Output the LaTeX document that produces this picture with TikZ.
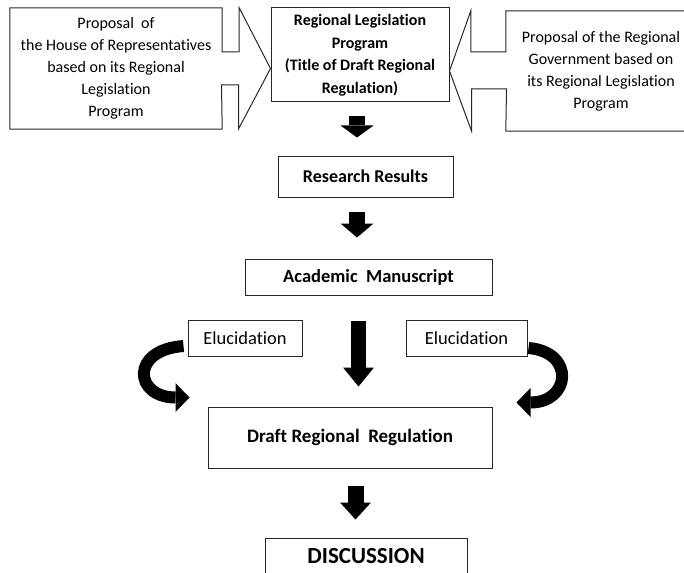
\documentclass[tikz,border=0pt]{standalone}
\usepackage{fontspec}
\setmainfont{Carlito}[Ligatures=NoCommon]
\usetikzlibrary{arrows.meta,calc}

\begin{document}
\begin{tikzpicture}[x=1pt, y=-1pt,
	box/.style={draw=black!85, line width=1pt},
	txt/.style={align=center, inner sep=0pt, font=\fontsize{16}{22}\selectfont},
	block/.style={black, line width=16pt, -{Triangle[width=33pt, length=13pt, line width=0pt]}},
	bendarrow/.style={black, line width=12pt, -{Triangle[width=29pt, length=14pt, line width=0pt]}}]
	\useasboundingbox (0,0) rectangle (684,572);
	\coordinate (spine) at (357,0);

	% top row
	\node[txt, minimum width=212pt, minimum height=121pt] (house) at (116,68.5)
	  {Proposal \ of\\the House of Representatives\\based on its Regional\\Legislation\\Program};
	\node[box, txt, font=\bfseries\fontsize{16}{22.5}\selectfont, minimum width=178pt, minimum height=94pt] (prog) at (360,55)
	  {Regional Legislation\\Program\\(Title of Draft Regional\\Regulation)};
	\node[txt, minimum width=190pt, minimum height=120pt] (gov) at (601,71)
	  {Proposal of the Regional\\Government based on\\its Regional Legislation\\Program};

	% callouts
	\draw[box] (house.north west) -- (house.north east) -- ++(0,44) -- ++(17,0) -- ++(0,-44)
	  -- (prog.west |- house.east) -- ++(-32,60.5) -- ++(0,-44) -- ++(-17,0) -- (house.south east) -- (house.south west) -- cycle;
	\draw[box] (gov.north east) -- (gov.north west) -- ++(0,41) -- ++(-35,0) -- ++(0,-41)
	  -- (prog.east |- gov.west) -- ++(22,60) -- ++(0,-42) -- ++(35,0) -- (gov.south west) -- (gov.south east) -- cycle;

	% chain
	\node[box, font=\bfseries\fontsize{18}{20}\selectfont, minimum width=175pt, minimum height=41pt] (research) at (365.5,176.5) {Research Results};
	\node[box, font=\bfseries\fontsize{18.5}{20}\selectfont, minimum width=247pt, minimum height=36pt] (academic) at (368.5,277) {Academic \ Manuscript};
	\node[box, font=\fontsize{18.5}{20}\selectfont, minimum width=114pt, minimum height=36pt] (elucL) at (245,338) {Elucidation};
	\node[box, font=\fontsize{18.5}{20}\selectfont, minimum width=121pt, minimum height=36pt] (elucR) at (466.5,338) {Elucidation};
	\node[box, font=\bfseries\fontsize{19}{20}\selectfont, minimum width=284pt, minimum height=61pt] (draft) at (350,437.5) {Draft Regional \ Regulation};
	\node[box, font=\bfseries\fontsize{23}{24}\selectfont, minimum width=202pt, minimum height=36pt] (discussion) at (366,556) {DISCUSSION};

	% block arrows
	\draw[block, -{Triangle[width=33pt, length=12pt, line width=0pt]}, shorten <=14pt, shorten >=18pt]
	  (spine |- prog.south) -- (spine |- research.north);
	\draw[block, -{Triangle[width=33pt, length=14pt, line width=0pt]}, shorten <=14pt, shorten >=21pt]
	  (spine |- research.south) -- (spine |- academic.north);
	\draw[block, line width=15pt, -{Triangle[width=31pt, length=19pt, line width=0pt]}, shorten <=25pt, shorten >=20pt]
	  ($(spine |- academic.south)+(1.5,0)$) -- ($(spine |- draft.north)+(1.5,0)$);
	\draw[block, -{Triangle[width=31pt, length=17pt, line width=0pt]}, shorten <=17pt, shorten >=18pt]
	  ($(spine |- draft.south)+(-1.5,0)$) -- ($(spine |- discussion.north)+(-1.5,0)$);

	% curved arrows
	\draw[bendarrow] ($(elucL.west)+(-4,8)$) .. controls +(-54,4) and +(-55,0) .. ($(draft.north west)+(-18,-9)$);
	\draw[bendarrow] ($(elucR.east)+(1,10)$) .. controls +(47,4) and +(54,0) .. ($(draft.north east)+(24,-4)$);
\end{tikzpicture}
\end{document}
